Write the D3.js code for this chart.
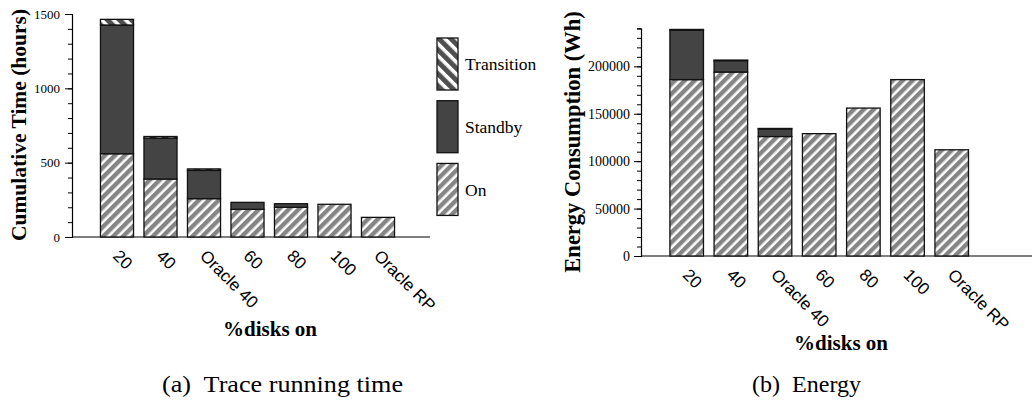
<!DOCTYPE html>
<html>
<head>
<meta charset="utf-8">
<script src="https://cdn.jsdelivr.net/npm/d3@7/dist/d3.min.js"></script>
<style>
  html, body { margin: 0; padding: 0; background: #fff; }
  svg { display: block; }
</style>
</head>
<body>
<div id="chart"></div>
<script>
  'use strict';

  var SERIF = "'Liberation Serif', 'Times New Roman', Times, serif";
  var SANS = "'Liberation Sans', Arial, Helvetica, sans-serif";

  var categories = ['20', '40', 'Oracle 40', '60', '80', '100', 'Oracle RP'];

  // (a) cumulative time, hours
  var timeOn         = [560, 390, 258, 186, 200, 220, 132];
  var timeStandby    = [866, 275, 190,  47,  24,   0,   0];
  var timeTransition = [ 38,  11,  10,   0,   0,   0,   0];
  var timeTicks      = [0, 500, 1000, 1500];

  // (b) energy, Wh
  var energyOn         = [186000, 194000, 126000, 129000, 156000, 186000, 112000];
  var energyStandby    = [ 52000,  12000,   8000,      0,      0,      0,      0];
  var energyTransition = [   900,    600,    500,      0,      0,      0,      0];
  var energyTicks      = [0, 50000, 100000, 150000, 200000];

  var seriesKeys  = ['on', 'standby', 'transition'];
  var legendNames = ['Transition', 'Standby', 'On'];

  var fills = {
    on: 'url(#hatchOn)',
    standby: '#444444',
    transition: 'url(#hatchTrans)'
  };

  var W = 1032, H = 402;
  var svg = d3.select('#chart').append('svg')
    .attr('width', W)
    .attr('height', H);

  var defs = svg.append('defs');

  function hatch(id, angle, size, barWidth, color) {
    var p = defs.append('pattern')
      .attr('id', id)
      .attr('patternUnits', 'userSpaceOnUse')
      .attr('width', size)
      .attr('height', size)
      .attr('patternTransform', 'rotate(' + angle + ')');
    p.append('rect').attr('width', size).attr('height', size).attr('fill', '#fff');
    p.append('rect').attr('width', barWidth).attr('height', size).attr('fill', color);
  }
  hatch('hatchOn', 45, 7, 4.4, '#858585');
  hatch('hatchTrans', -45, 8.5, 5, '#4f4f4f');

  function table(on, standby, transition) {
    return categories.map(function(c, i) {
      return { cat: c, on: on[i], standby: standby[i], transition: transition[i] };
    });
  }

  function drawPanel(o) {
    var g = svg.append('g');
    var rows = table(o.on, o.standby, o.transition);
    var stacked = d3.stack().keys(seriesKeys)(rows);

    var x = d3.scaleBand()
      .domain(categories)
      .range(o.xRange)
      .paddingInner(0.24)
      .paddingOuter(0.12);

    var y = d3.scaleLinear()
      .domain(o.yDomain)
      .range([o.y0, o.yTop]);

    // x axis line
    g.append('line')
      .attr('x1', o.axisX).attr('x2', o.axisEnd)
      .attr('y1', y(0)).attr('y2', y(0))
      .attr('stroke', '#000').attr('stroke-width', 1.2);

    // minor ticks
    var minor = g.append('g')
      .attr('transform', 'translate(' + o.axisX + ',0)')
      .call(d3.axisLeft(y).tickValues(d3.range(0, o.yDomain[1] + 1, o.minorStep)).tickSize(4).tickFormat(''));
    minor.select('.domain').attr('stroke-width', 1.2);
    minor.selectAll('.tick line').attr('stroke-width', 1);

    // major ticks + labels
    var major = g.append('g')
      .attr('transform', 'translate(' + o.axisX + ',0)')
      .call(d3.axisLeft(y).tickValues(o.ticks).tickSize(7).tickPadding(o.tickPad).tickFormat(d3.format('d')));
    major.select('.domain').remove();
    major.selectAll('.tick line').attr('stroke-width', 1);
    major.selectAll('.tick text')
      .style('font-family', SERIF)
      .style('font-size', o.tickFont + 'px')
      .attr('fill', '#000');

    // bars
    stacked.forEach(function(layer) {
      g.append('g')
        .selectAll('rect')
        .data(layer.filter(function(d) { return d[1] - d[0] > 0; }))
        .enter().append('rect')
        .attr('x', function(d) { return x(d.data.cat); })
        .attr('width', x.bandwidth())
        .attr('y', function(d) { return y(d[1]); })
        .attr('height', function(d) { return y(d[0]) - y(d[1]); })
        .attr('fill', fills[layer.key])
        .attr('stroke', '#111')
        .attr('stroke-width', 1.3);
    });

    // rotated category labels
    g.append('g')
      .selectAll('text')
      .data(categories)
      .enter().append('text')
      .style('font-family', SANS)
      .style('font-size', '17px')
      .attr('transform', function(d) {
        return 'translate(' + (x(d) + x.bandwidth() / 2 - 5) + ',' + (y(0) + 20) + ') rotate(45)';
      })
      .text(function(d) { return d; });

    // y title
    g.append('text')
      .style('font-family', SERIF)
      .style('font-weight', 'bold')
      .style('font-size', o.titleFont + 'px')
      .attr('text-anchor', 'middle')
      .attr('transform', 'translate(' + o.yTitleX + ',' + o.yTitleY + ') rotate(-90)')
      .text(o.yTitle);

    // x title
    g.append('text')
      .style('font-family', SERIF)
      .style('font-weight', 'bold')
      .style('font-size', '21px')
      .attr('text-anchor', 'middle')
      .attr('x', o.xTitleX)
      .attr('y', o.xTitleY)
      .text('%disks on');

    // caption
    g.append('text')
      .style('font-family', SERIF)
      .style('font-size', '23px')
      .style('white-space', 'pre')
      .attr('x', o.capX)
      .attr('y', 392)
      .attr('textLength', o.capLen)
      .attr('lengthAdjust', 'spacingAndGlyphs')
      .text(o.caption);

    return g;
  }

  drawPanel({
    on: timeOn, standby: timeStandby, transition: timeTransition,
    xRange: [95.25, 399.75], yDomain: [0, 1500], y0: 237, yTop: 14,
    axisX: 72, axisEnd: 430, minorStep: 100, ticks: timeTicks,
    tickPad: 5, tickFont: 13, titleFont: 21.5,
    yTitle: 'Cumulative Time (hours)', yTitleX: 26, yTitleY: 125,
    xTitleX: 270, xTitleY: 336,
    caption: '(a)  Trace running time', capX: 162, capLen: 241
  });

  drawPanel({
    on: energyOn, standby: energyStandby, transition: energyTransition,
    xRange: [664.6, 973.8], yDomain: [0, 240000], y0: 256, yTop: 28.4,
    axisX: 641, axisEnd: 1032, minorStep: 10000, ticks: energyTicks,
    tickPad: 4, tickFont: 14, titleFont: 22.5,
    yTitle: 'Energy Consumption (Wh)', yTitleX: 580, yTitleY: 142,
    xTitleX: 841, xTitleY: 350,
    caption: '(b)  Energy', capX: 752, capLen: 109
  });

  // legend (left panel)
  var legend = svg.append('g');
  var legendKeys = ['transition', 'standby', 'on'];
  var ly = d3.scaleBand().domain(legendKeys).range([38, 218]).paddingInner(0.13).paddingOuter(0);
  legend.selectAll('rect')
    .data(legendKeys)
    .enter().append('rect')
    .attr('x', 437)
    .attr('y', function(d) { return ly(d); })
    .attr('width', 21)
    .attr('height', 52)
    .attr('fill', function(d) { return fills[d]; })
    .attr('stroke', '#111')
    .attr('stroke-width', 1.3);
  legend.selectAll('text')
    .data(legendKeys)
    .enter().append('text')
    .style('font-family', SERIF)
    .style('font-size', '17.5px')
    .attr('x', 465)
    .attr('y', function(d) { return ly(d) + 26; })
    .attr('dy', '0.35em')
    .text(function(d, i) { return legendNames[i]; });
</script>
</body>
</html>
